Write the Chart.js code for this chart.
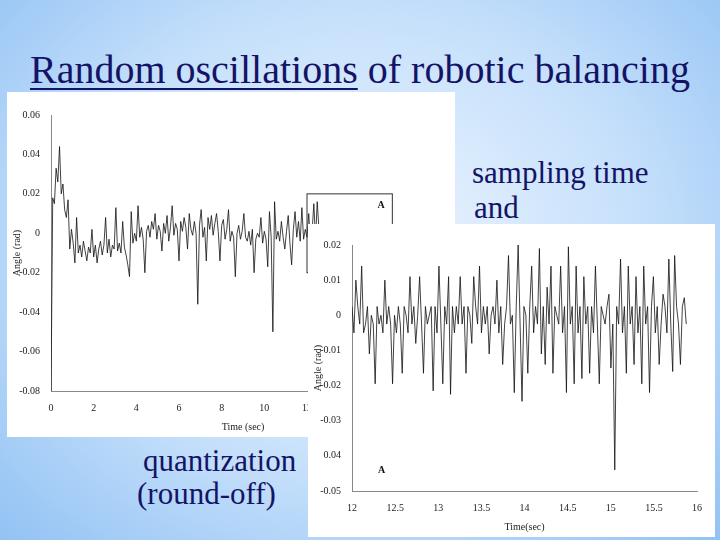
<!DOCTYPE html>
<html>
<head>
<meta charset="utf-8">
<script src="https://cdn.jsdelivr.net/npm/chart.js@4"></script>
<style>
  body { margin: 0; }
  #slide {
    position: relative; width: 720px; height: 540px; overflow: hidden;
    background: radial-gradient(ellipse at 50% 45%, #eef6ff 0%, #c6e0fb 55%, #92c2f4 100%);
    font-family: "Liberation Serif", serif; color: #141466;
  }
  #title { position: absolute; left: 30px; top: 46px; font-size: 40px; white-space: nowrap; }
  #title u { text-decoration-thickness: 2px; text-underline-offset: 5px; }
  .txt { position: absolute; font-size: 31px; white-space: nowrap; }
  .box { position: absolute; background: #fff; }
</style>
</head>
<body>
<div id="slide">
  <div id="title"><u>Random oscillations</u> of robotic balancing</div>
  <div class="txt" style="left:472px;top:155px">sampling time</div>
  <div class="txt" style="left:474px;top:190px">and</div>
  <div class="txt" style="left:143px;top:443px">quantization</div>
  <div class="txt" style="left:137px;top:476px">(round-off)</div>
  <div class="box" style="left:7px;top:92px;width:448px;height:345px"><canvas id="left" width="448" height="345"></canvas></div>
  <div class="box" style="left:308px;top:224px;width:407px;height:313px"><canvas id="right" width="407" height="313"></canvas></div>
</div>
<script>
// full run, sampled every 0.08 s
const leftStep = 0.08;
const leftAngle = [
  -0.080, 0.018, 0.015, 0.033, 0.026, 0.044, 0.020, 0.025, 0.012, 0.008, 0.017, -0.008, 0.002, -0.005, -0.015, 0.008,
  -0.010, -0.006, -0.012, -0.004, -0.009, -0.014, -0.007, -0.010, 0.002, -0.012, -0.006, -0.015, -0.008, -0.004,
  -0.011, -0.006, 0.008, -0.010, -0.003, -0.012, -0.006, -0.008, 0.013, -0.009, -0.005, -0.010, 0.006, -0.007,
  -0.011, -0.016, -0.022, 0.011, -0.005, 0.000, -0.004, 0.014, -0.002, 0.003, -0.003, -0.020, 0.001, 0.004,
  -0.002, 0.006, 0.002, 0.010, -0.003, 0.004, 0.001, -0.009, 0.005, 0.000, 0.009, -0.004, 0.003, 0.014, -0.001,
  0.005, 0.002, -0.014, 0.006, 0.001, 0.008, 0.003, -0.008, 0.010, 0.002, -0.001, 0.006, 0.000, -0.036, 0.004,
  0.012, -0.002, 0.003, -0.014, 0.008, 0.002, 0.009, -0.001, 0.005, 0.010, 0.001, -0.014, 0.004, 0.007, -0.003,
  0.002, 0.012, -0.004, 0.001, -0.002, -0.022, 0.000, 0.004, -0.003, 0.001, 0.010, -0.002, -0.004, 0.001, -0.006,
  0.002, -0.020, -0.003, 0.000, -0.002, 0.008, -0.005, 0.001, -0.003, -0.017, 0.011, -0.002, -0.050, 0.016,
  -0.003, 0.001, -0.004, 0.006, -0.002, -0.008, 0.001, 0.009, -0.005, -0.016, 0.002, 0.011, -0.002, 0.006,
  -0.004, 0.013, -0.003, 0.002, -0.002, 0.010, -0.004, 0.001, 0.015, -0.003, 0.016, 0.002
];
// zoom A, from 12 s
const rightStart = 12;
const rightStep = 0.0224;
const rightAngle = [
  0.0025, -0.005, 0.010, 0.0025, -0.0025, 0.014, -0.005, -0.0025, 0.0025, -0.011, 0.0000, -0.0025, -0.0195,
  0.0025, -0.0025, 0.0000, -0.005, 0.010, -0.0025, 0.0025, -0.0025, -0.0195, 0.0000, -0.005, 0.0025, -0.0025,
  -0.0165, 0.0025, 0.0000, -0.005, 0.0110, -0.0025, 0.0025, -0.008, 0.0000, 0.0110, -0.0025, -0.0165, 0.0025,
  -0.0025, 0.0000, 0.0025, -0.0215, 0.0025, -0.005, 0.0140, -0.0025, -0.0195, 0.0025, -0.0025, 0.0110,
  -0.0225, 0.0025, -0.005, 0.0025, -0.0025, 0.0110, -0.0025, 0.0025, -0.0165, 0.0025, 0.0000, -0.008, 0.0110,
  0.0025, -0.0025, 0.0140, -0.005, 0.0025, -0.0025, 0.0025, -0.0110, 0.0000, 0.0025, -0.0025, 0.0100, -0.005,
  0.0025, -0.0140, -0.0025, 0.0025, 0.0170, -0.0025, 0.0000, -0.0220, 0.0025, 0.0200, -0.0025, -0.0245,
  0.0025, 0.0000, -0.0165, 0.0025, 0.0140, -0.005, 0.0025, -0.0025, 0.0190, -0.0110, 0.0025, -0.0140,
  0.0080, -0.0025, 0.0140, -0.0165, 0.0025, 0.0000, -0.0025, 0.0140, -0.005, 0.0025, -0.0220, 0.0195,
  -0.0025, 0.0025, -0.0195, 0.0140, -0.005, 0.0025, -0.0180, 0.0110, -0.0025, 0.0025, -0.0165, 0.0025,
  -0.005, 0.0140, -0.0025, -0.0195, 0.0025, 0.0000, -0.0025, 0.0025, 0.0060, -0.0150, -0.0025, -0.0440,
  0.0025, -0.0025, 0.0160, -0.005, 0.0025, -0.0165, 0.0140, -0.0025, 0.0025, -0.0140, 0.0110, -0.005,
  0.0025, -0.0195, 0.0140, -0.0025, 0.0025, -0.0220, 0.0025, 0.0110, -0.005, 0.0025, -0.0140, -0.0025,
  0.0060, 0.0025, -0.005, 0.0160, -0.0025, -0.0160, 0.0170, 0.0025, -0.0025, -0.0140, 0.0025, 0.0050, -0.0025
];
const leftYTicks = ["0.06", "0.04", "0.02", "0", "-0.02", "-0.04", "-0.06", "-0.08"];
const rightYTicks = ["0.02", "0.01", "0", "-0.01", "-0.02", "-0.03", "0.04", "-0.05"];

const serif = { family: "Liberation Serif", size: 10 };

function points(start, step, values) {
  return values.map((v, i) => ({ x: start + i * step, y: v }));
}

// draws the "A" label and, on the full run, the zoom rectangle
function marker(box, label) {
  return {
    id: "marker",
    afterDatasetsDraw(chart) {
      const { ctx, scales: { x, y } } = chart;
      ctx.save();
      ctx.strokeStyle = "#333";
      ctx.lineWidth = 1;
      if (box) {
        ctx.strokeRect(x.getPixelForValue(box[0]), y.getPixelForValue(box[2]),
          x.getPixelForValue(box[1]) - x.getPixelForValue(box[0]),
          y.getPixelForValue(box[3]) - y.getPixelForValue(box[2]));
      }
      ctx.fillStyle = "#111";
      ctx.font = "bold 10px Liberation Serif";
      ctx.fillText("A", x.getPixelForValue(label[0]), y.getPixelForValue(label[1]));
      ctx.restore();
    },
  };
}

function makeChart(id, data, xr, yr, yTicks, xStep, xTitle, pad, plugin) {
  const yStep = (yr[1] - yr[0]) / (yTicks.length - 1);
  return new Chart(document.getElementById(id), {
    type: "line",
    data: {
      datasets: [{
        data: data,
        borderColor: "#111",
        borderWidth: 0.8,
        pointRadius: 0,
        tension: 0,
      }],
    },
    options: {
      responsive: false,
      animation: false,
      layout: { padding: pad },
      plugins: { legend: { display: false }, tooltip: { enabled: false } },
      scales: {
        x: {
          type: "linear", min: xr[0], max: xr[1],
          grid: { display: false, drawTicks: true },
          border: { color: "#888" },
          ticks: { stepSize: xStep, color: "#222", font: serif, maxRotation: 0,
            callback: (v) => (v > 12 && id === "left") ? "" : v },
          title: { display: true, text: xTitle, color: "#222", font: serif },
        },
        y: {
          min: yr[0], max: yr[1],
          grid: { display: false },
          border: { color: "#888" },
          ticks: { stepSize: yStep, color: "#222", font: serif,
            callback: (v) => yTicks[Math.round((yr[1] - v) / yStep)] },
          title: { display: true, text: "Angle (rad)", color: "#222", font: serif },
          afterFit: (s) => { s.width = 44; },
        },
      },
    },
    plugins: [plugin],
  });
}

makeChart("left", points(0, leftStep, leftAngle), [0, 18], [-0.08, 0.06], leftYTicks, 2,
  "Time (sec)", { top: 23, right: 20, left: 0, bottom: 0 },
  marker([12, 16, 0.02, -0.02], [15.3, 0.013]));

makeChart("right", points(rightStart, rightStep, rightAngle), [12, 16], [-0.05, 0.02], rightYTicks, 0.5,
  "Time(sec)", { top: 21, right: 18, left: 0, bottom: 0 },
  marker(null, [12.3, -0.045]));
</script>
</body>
</html>
